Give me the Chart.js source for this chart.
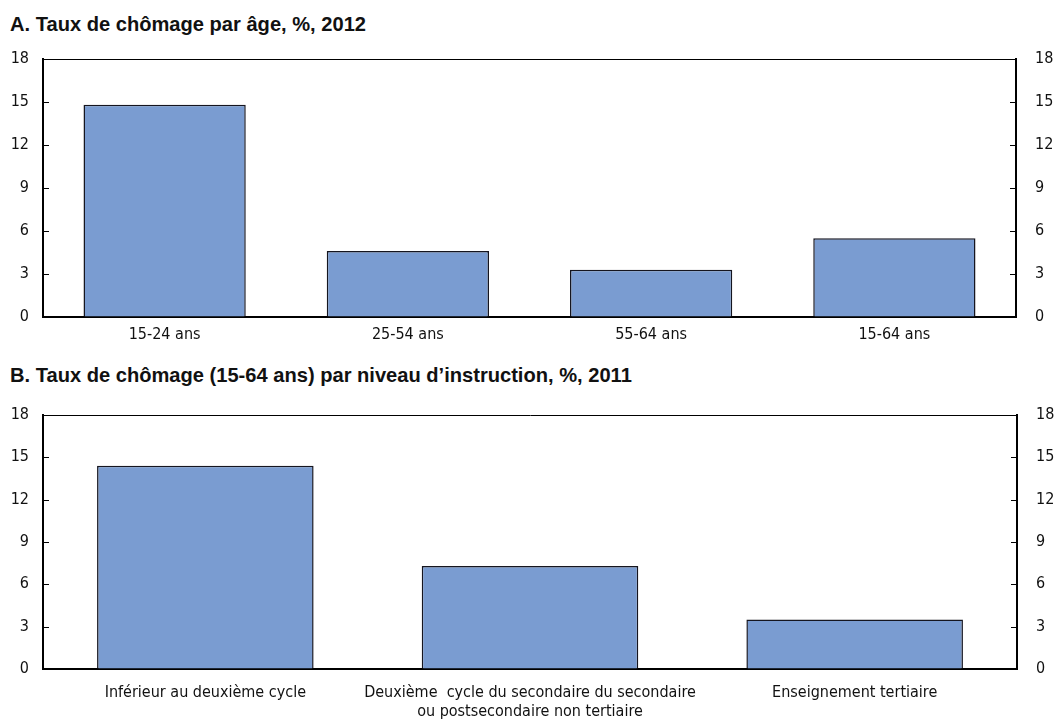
<!DOCTYPE html>
<html>
<head>
<meta charset="utf-8">
<script src="https://cdn.jsdelivr.net/npm/chart.js@4/dist/chart.umd.min.js"></script>
<style>
  html, body { margin: 0; padding: 0; background: #fff; }
  body { width: 1056px; height: 722px; position: relative; overflow: hidden; }
  .title {
    position: absolute; left: 10px; margin: 0;
    font-family: "Liberation Sans", Arial, sans-serif;
    font-weight: bold; font-size: 21px; line-height: 24px; color: #111; white-space: nowrap;
    transform-origin: 0 0;
  }
  canvas { position: absolute; left: 0; }
</style>
</head>
<body>
<div class="title" id="titleA" style="top:12px;">A. Taux de chômage par âge, %, 2012</div>
<div class="title" id="titleB" style="top:363px;">B. Taux de chômage (15-64 ans) par niveau d’instruction, %, 2011</div>
<canvas id="chartA" width="1056" height="360" style="top:0;width:1056px;height:360px;"></canvas>
<canvas id="chartB" width="1056" height="362" style="top:360px;width:1056px;height:362px;"></canvas>
<script>
// Unemployment rate by age group, 2012 (%)
const ageCategories = ['15-24 ans', '25-54 ans', '55-64 ans', '15-64 ans'];
const ageRates = [14.8, 4.6, 3.3, 5.5];

// Unemployment rate (15-64) by educational attainment, 2011 (%)
const eduCategories = [
  'Inférieur au deuxième cycle',
  ['Deuxième  cycle du secondaire du secondaire', 'ou postsecondaire non tertiaire'],
  'Enseignement tertiaire'
];
const eduRates = [14.4, 7.3, 3.5];

// Shared value axis
const yMin = 0;
const yMax = 18;
const yStep = 3;

const FONT = '"Liberation Sans Narrow", "DejaVu Sans Condensed", sans-serif';
const BAR_FILL = '#7a9cd1';
const BAR_EDGE = '#15151f';

// Condensed look for the panel headings
const TITLE_WIDTH_A = 356;
const titleA = document.getElementById('titleA');
const titleB = document.getElementById('titleB');
const squeeze = TITLE_WIDTH_A / titleA.getBoundingClientRect().width;
[titleA, titleB].forEach(el => { el.style.transform = 'scaleX(' + squeeze + ')'; });

// Short tick marks pointing into the plot from both value axes
const innerTicks = {
  id: 'innerTicks',
  afterDraw(chart) {
    const ctx = chart.ctx;
    const area = chart.chartArea;
    ctx.save();
    ctx.strokeStyle = '#000';
    ctx.lineWidth = 1;
    ['y', 'y2'].forEach(id => {
      const s = chart.scales[id];
      const x0 = id === 'y' ? area.left : area.right;
      const dir = id === 'y' ? 1 : -1;
      s.ticks.forEach(t => {
        const py = Math.round(s.getPixelForValue(t.value)) + 0.5;
        ctx.beginPath();
        ctx.moveTo(x0, py);
        ctx.lineTo(x0 + dir * 6, py);
        ctx.stroke();
      });
    });
    ctx.restore();
  }
};

function makeChart(canvasId, labels, values, opts) {
  const valueAxis = (position) => ({
    type: 'linear',
    position,
    min: yMin,
    max: yMax,
    afterFit: s => { s.width = position === 'left' ? opts.leftW : opts.rightW; },
    ticks: {
      stepSize: yStep,
      color: '#111',
      padding: position === 'left' ? 14 : 19,
      font: { family: FONT, size: 16 }
    },
    border: { display: true, color: '#000', width: 2 },
    grid: {
      drawTicks: false,
      drawOnChartArea: position === 'left',
      color: ctx => (ctx.tick && ctx.tick.value === yMax) ? '#000' : 'rgba(0,0,0,0)',
      lineWidth: 1
    }
  });

  return new Chart(document.getElementById(canvasId), {
    type: 'bar',
    data: {
      labels,
      datasets: [{
        data: values,
        backgroundColor: BAR_FILL,
        borderColor: BAR_EDGE,
        borderWidth: 1.5,
        categoryPercentage: 1,
        barPercentage: 0.667
      }]
    },
    options: {
      responsive: false,
      animation: false,
      devicePixelRatio: 1,
      layout: { padding: { top: opts.top, left: 0, right: 0, bottom: 0 } },
      plugins: { legend: { display: false }, tooltip: { enabled: false }, title: { display: false } },
      scales: {
        x: {
          type: 'category',
          afterFit: s => { s.height = opts.bottomH; },
          ticks: {
            color: '#111',
            padding: opts.xPad,
            maxRotation: 0,
            autoSkip: false,
            font: { family: FONT, size: 16, lineHeight: 1.2 }
          },
          border: { display: true, color: '#000', width: 2 },
          grid: { display: false, drawTicks: false }
        },
        y: valueAxis('left'),
        y2: valueAxis('right')
      }
    },
    plugins: [innerTicks]
  });
}

makeChart('chartA', ageCategories, ageRates, { top: 59, bottomH: 43, leftW: 43, rightW: 40, xPad: 8 });
makeChart('chartB', eduCategories, eduRates, { top: 55, bottomH: 53, leftW: 43, rightW: 39, xPad: 14 });
</script>
</body>
</html>
